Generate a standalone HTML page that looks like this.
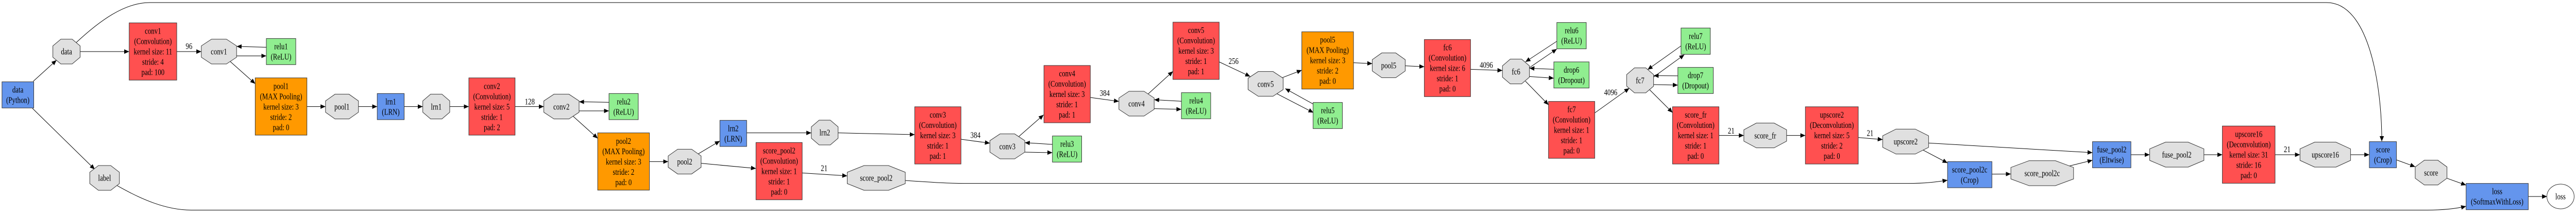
<!DOCTYPE html>
<html><head><meta charset="utf-8"><style>
html,body{margin:0;padding:0;background:#fff;width:100%;height:100%;overflow:hidden;}
svg{display:block;width:100vw;height:100vh;}
text{font-family:"Liberation Serif",serif;font-size:50px;fill:#000;text-anchor:middle;}
.r{fill:#FF5050;stroke:#333;stroke-width:3}
.o{fill:#FF9900;stroke:#333;stroke-width:3}
.g{fill:#90EE90;stroke:#333;stroke-width:3}
.b{fill:#6495ED;stroke:#333;stroke-width:3}
.p{fill:#E0E0E0;stroke:#333;stroke-width:3}
.e{fill:none;stroke:#000;stroke-width:3;marker-end:url(#a)}
</style></head><body>
<svg viewBox="0 0 6917 413" preserveAspectRatio="none" xmlns="http://www.w3.org/2000/svg">
<defs><marker id="a" markerUnits="userSpaceOnUse" markerWidth="32" markerHeight="26" refX="30" refY="13" orient="auto"><path d="M0,0 L30,13 L0,26z" fill="#000"/></marker></defs>
<g transform="scale(0.446429,0.333333)">
<path class="e" d="M200,473 L340,350"/>
<path class="e" d="M195,630 L570,985"/>
<path class="e" d="M482,300 L777,300"/>
<path class="e" d="M458,248 C600,120 750,15 900,15 L13994,15 C14250,15 14326,500 14326,822"/>
<path class="e" d="M1063,300 L1211,300"/>
<path class="e" d="M1423,325 L1602,325"/>
<path class="e" d="M1602,275 L1423,270"/>
<path class="e" d="M1385,358 L1535,487"/>
<path class="e" d="M1846,620 L1958,620"/>
<path class="e" d="M2156,620 L2269,620"/>
<path class="e" d="M2431,620 L2543,620"/>
<path class="e" d="M2705,620 L2820,620"/>
<path class="e" d="M3098,620 L3271,620"/>
<path class="e" d="M3483,645 L3663,645"/>
<path class="e" d="M3663,595 L3483,592"/>
<path class="e" d="M3447,676 L3595,805"/>
<path class="e" d="M3906,940 L4019,940"/>
<path class="e" d="M4200,895 L4330,820"/>
<path class="e" d="M4217,950 L4547,980"/>
<path class="e" d="M4491,773 L4880,773"/>
<path class="e" d="M5041,773 L5502,783"/>
<path class="e" d="M4825,1006 L5096,1023"/>
<path class="e" d="M5445,1050 C5600,1060 5700,1067 5800,1067 L11476,1067 C11580,1067 11650,1058 11714,1048"/>
<path class="e" d="M5780,810 L5954,833"/>
<path class="e" d="M6127,795 L6277,668"/>
<path class="e" d="M6164,885 L6330,888"/>
<path class="e" d="M6330,840 L6164,830"/>
<path class="e" d="M6558,567 L6730,590"/>
<path class="e" d="M6905,547 L7055,415"/>
<path class="e" d="M6942,632 L7106,636"/>
<path class="e" d="M7106,589 L6942,580"/>
<path class="e" d="M7333,360 L7520,445"/>
<path class="e" d="M7712,452 L7830,408"/>
<path class="e" d="M7680,545 L7900,655"/>
<path class="e" d="M7898,605 L7730,515"/>
<path class="e" d="M8141,365 L8254,370"/>
<path class="e" d="M8452,383 L8567,388"/>
<path class="e" d="M8845,403 L9037,410"/>
<path class="e" d="M9200,393 L9364,285"/>
<path class="e" d="M9364,240 L9175,360"/>
<path class="e" d="M9199,445 L9346,455"/>
<path class="e" d="M9346,403 L9199,397"/>
<path class="e" d="M9175,472 L9314,610"/>
<path class="e" d="M9592,657 L9800,513"/>
<path class="e" d="M9946,448 L10131,318"/>
<path class="e" d="M10111,267 L9910,405"/>
<path class="e" d="M9946,492 L10092,495"/>
<path class="e" d="M10092,441 L9946,440"/>
<path class="e" d="M9922,522 L10060,655"/>
<path class="e" d="M10339,788 L10489,788"/>
<path class="e" d="M10746,788 L10859,788"/>
<path class="e" d="M11177,800 L11324,812"/>
<path class="e" d="M11565,872 L11714,948"/>
<path class="e" d="M11600,832 L12586,888"/>
<path class="e" d="M11981,1013 L12095,1012"/>
<path class="e" d="M12440,967 L12586,932"/>
<path class="e" d="M12817,900 L12930,900"/>
<path class="e" d="M13256,900 L13367,900"/>
<path class="e" d="M13684,900 L13834,900"/>
<path class="e" d="M14138,900 L14251,900"/>
<path class="e" d="M14414,930 L14527,970"/>
<path class="e" d="M14718,1037 L14833,1077"/>
<path class="e" d="M705,1080 C850,1160 1000,1222 1150,1222 L14600,1222 C14700,1222 14780,1212 14833,1200"/>
<path class="e" d="M15207,1143 L15320,1143"/>
<rect class="b" x="12" y="476" width="191" height="152"/>
<rect class="r" x="777" y="133" width="286" height="333"/>
<rect class="g" x="1602" y="224" width="177" height="152"/>
<rect class="o" x="1535" y="453" width="311" height="333"/>
<rect class="b" x="2269" y="544" width="162" height="152"/>
<rect class="r" x="2820" y="453" width="278" height="333"/>
<rect class="g" x="3663" y="544" width="176" height="152"/>
<rect class="o" x="3595" y="773" width="311" height="333"/>
<rect class="b" x="4330" y="700" width="161" height="152"/>
<rect class="r" x="4547" y="829" width="278" height="333"/>
<rect class="r" x="5502" y="621" width="278" height="333"/>
<rect class="g" x="6330" y="791" width="176" height="152"/>
<rect class="r" x="6279" y="381" width="279" height="333"/>
<rect class="g" x="7106" y="539" width="176" height="152"/>
<rect class="r" x="7055" y="129" width="278" height="333"/>
<rect class="o" x="7830" y="185" width="311" height="333"/>
<rect class="g" x="7898" y="596" width="176" height="152"/>
<rect class="r" x="8567" y="230" width="278" height="332"/>
<rect class="g" x="9364" y="131" width="177" height="153"/>
<rect class="g" x="9346" y="360" width="212" height="152"/>
<rect class="r" x="9314" y="590" width="278" height="331"/>
<rect class="g" x="10111" y="163" width="176" height="153"/>
<rect class="g" x="10092" y="392" width="213" height="152"/>
<rect class="r" x="10060" y="621" width="279" height="333"/>
<rect class="r" x="10859" y="621" width="318" height="333"/>
<rect class="b" x="11714" y="940" width="267" height="152"/>
<rect class="b" x="12586" y="824" width="231" height="152"/>
<rect class="r" x="13367" y="733" width="317" height="333"/>
<rect class="b" x="14251" y="824" width="163" height="152"/>
<rect class="b" x="14833" y="1067" width="374" height="153"/>
<polygon class="p" points="366,228 434,228 482,267 482,333 434,372 366,372 318,333 318,267"/>
<polygon class="p" points="592,963 666,963 718,1002 718,1068 666,1107 592,1107 540,1068 540,1002"/>
<polygon class="p" points="1272,228 1362,228 1423,267 1423,333 1362,372 1272,372 1211,333 1211,267"/>
<polygon class="p" points="2015,548 2099,548 2156,587 2156,653 2099,692 2015,692 1958,653 1958,587"/>
<polygon class="p" points="2590,548 2658,548 2705,587 2705,653 2658,692 2590,692 2543,653 2543,587"/>
<polygon class="p" points="3332,548 3422,548 3483,587 3483,653 3422,692 3332,692 3271,653 3271,587"/>
<polygon class="p" points="4076,868 4160,868 4217,907 4217,973 4160,1012 4076,1012 4019,973 4019,907"/>
<polygon class="p" points="4927,699 4994,699 5041,738 5041,804 4994,843 4927,843 4880,804 4880,738"/>
<polygon class="p" points="5197,963 5344,963 5445,1002 5445,1068 5344,1107 5197,1107 5096,1068 5096,1002"/>
<polygon class="p" points="6015,779 6103,779 6164,818 6164,885 6103,924 6015,924 5954,885 5954,818"/>
<polygon class="p" points="6791,531 6881,531 6942,570 6942,636 6881,675 6791,675 6730,636 6730,570"/>
<polygon class="p" points="7568,416 7657,416 7718,455 7718,521 7657,560 7568,560 7507,521 7507,455"/>
<polygon class="p" points="8311,308 8395,308 8452,347 8452,413 8395,452 8311,452 8254,413 8254,347"/>
<polygon class="p" points="9084,344 9152,344 9199,383 9199,449 9152,488 9084,488 9037,449 9037,383"/>
<polygon class="p" points="9831,395 9899,395 9946,434 9946,501 9899,540 9831,540 9784,501 9784,434"/>
<polygon class="p" points="10564,716 10671,716 10746,755 10746,821 10671,860 10564,860 10489,821 10489,755"/>
<polygon class="p" points="11404,751 11520,751 11600,790 11600,857 11520,896 11404,896 11324,857 11324,790"/>
<polygon class="p" points="12204,935 12363,935 12472,974 12472,1041 12363,1080 12204,1080 12095,1041 12095,974"/>
<polygon class="p" points="13025,827 13161,827 13256,866 13256,933 13161,972 13025,972 12930,933 12930,866"/>
<polygon class="p" points="13922,827 14050,827 14138,866 14138,933 14050,972 13922,972 13834,933 13834,866"/>
<polygon class="p" points="14582,932 14663,932 14718,971 14718,1037 14663,1076 14582,1076 14527,1037 14527,971"/>
<ellipse cx="15401" cy="1143" rx="82" ry="72" fill="#fff" stroke="#333" stroke-width="3"/>
</g>
<g transform="scale(0.357143,0.333333)">
<text x="134" y="539">data</text><text x="134" y="599">(Python)</text>
<text x="1150" y="197">conv1</text><text x="1150" y="257">(Convolution)</text><text x="1150" y="317">kernel size: 11</text><text x="1150" y="377">stride: 4</text><text x="1150" y="437">pad: 100</text>
<text x="2113" y="287">relu1</text><text x="2113" y="347">(ReLU)</text>
<text x="2113" y="517">pool1</text><text x="2113" y="577">(MAX Pooling)</text><text x="2113" y="637">kernel size: 3</text><text x="2113" y="697">stride: 2</text><text x="2113" y="757">pad: 0</text>
<text x="2938" y="607">lrn1</text><text x="2938" y="667">(LRN)</text>
<text x="3699" y="517">conv2</text><text x="3699" y="577">(Convolution)</text><text x="3699" y="637">kernel size: 5</text><text x="3699" y="697">stride: 1</text><text x="3699" y="757">pad: 2</text>
<text x="4689" y="607">relu2</text><text x="4689" y="667">(ReLU)</text>
<text x="4688" y="837">pool2</text><text x="4688" y="897">(MAX Pooling)</text><text x="4688" y="957">kernel size: 3</text><text x="4688" y="1017">stride: 2</text><text x="4688" y="1077">pad: 0</text>
<text x="5513" y="763">lrn2</text><text x="5513" y="823">(LRN)</text>
<text x="5858" y="892">score_pool2</text><text x="5858" y="952">(Convolution)</text><text x="5858" y="1012">kernel size: 1</text><text x="5858" y="1072">stride: 1</text><text x="5858" y="1132">pad: 0</text>
<text x="7051" y="684">conv3</text><text x="7051" y="744">(Convolution)</text><text x="7051" y="804">kernel size: 3</text><text x="7051" y="864">stride: 1</text><text x="7051" y="924">pad: 1</text>
<text x="8023" y="854">relu3</text><text x="8023" y="914">(ReLU)</text>
<text x="8023" y="444">conv4</text><text x="8023" y="504">(Convolution)</text><text x="8023" y="564">kernel size: 3</text><text x="8023" y="624">stride: 1</text><text x="8023" y="684">pad: 1</text>
<text x="8993" y="602">relu4</text><text x="8993" y="662">(ReLU)</text>
<text x="8993" y="192">conv5</text><text x="8993" y="252">(Convolution)</text><text x="8993" y="312">kernel size: 3</text><text x="8993" y="372">stride: 1</text><text x="8993" y="432">pad: 1</text>
<text x="9982" y="248">pool5</text><text x="9982" y="308">(MAX Pooling)</text><text x="9982" y="368">kernel size: 3</text><text x="9982" y="428">stride: 2</text><text x="9982" y="488">pad: 0</text>
<text x="9983" y="659">relu5</text><text x="9983" y="719">(ReLU)</text>
<text x="10883" y="293">fc6</text><text x="10883" y="353">(Convolution)</text><text x="10883" y="413">kernel size: 6</text><text x="10883" y="473">stride: 1</text><text x="10883" y="533">pad: 0</text>
<text x="11816" y="194">relu6</text><text x="11816" y="254">(ReLU)</text>
<text x="11815" y="423">drop6</text><text x="11815" y="483">(Dropout)</text>
<text x="11816" y="652">fc7</text><text x="11816" y="712">(Convolution)</text><text x="11816" y="772">kernel size: 1</text><text x="11816" y="832">stride: 1</text><text x="11816" y="892">pad: 0</text>
<text x="12749" y="227">relu7</text><text x="12749" y="287">(ReLU)</text>
<text x="12748" y="455">drop7</text><text x="12748" y="515">(Dropout)</text>
<text x="12749" y="684">score_fr</text><text x="12749" y="744">(Convolution)</text><text x="12749" y="804">kernel size: 1</text><text x="12749" y="864">stride: 1</text><text x="12749" y="924">pad: 0</text>
<text x="13773" y="684">upscore2</text><text x="13773" y="744">(Deconvolution)</text><text x="13773" y="804">kernel size: 5</text><text x="13773" y="864">stride: 2</text><text x="13773" y="924">pad: 0</text>
<text x="14809" y="1003">score_pool2c</text><text x="14809" y="1063">(Crop)</text>
<text x="15877" y="887">fuse_pool2</text><text x="15877" y="947">(Eltwise)</text>
<text x="16907" y="797">upscore16</text><text x="16907" y="857">(Deconvolution)</text><text x="16907" y="917">kernel size: 31</text><text x="16907" y="977">stride: 16</text><text x="16907" y="1037">pad: 0</text>
<text x="17916" y="887">score</text><text x="17916" y="947">(Crop)</text>
<text x="18775" y="1130">loss</text><text x="18775" y="1190">(SoftmaxWithLoss)</text>
<text x="500" y="317">data</text>
<text x="786" y="1052">label</text>
<text x="1646" y="317">conv1</text>
<text x="2571" y="637">pool1</text>
<text x="3280" y="637">lrn1</text>
<text x="4221" y="637">conv2</text>
<text x="5148" y="957">pool2</text>
<text x="6201" y="788">lrn2</text>
<text x="6588" y="1052">score_pool2</text>
<text x="7574" y="868">conv3</text>
<text x="8545" y="620">conv4</text>
<text x="9516" y="505">conv5</text>
<text x="10441" y="397">pool5</text>
<text x="11398" y="433">fc6</text>
<text x="12331" y="484">fc7</text>
<text x="13272" y="805">score_fr</text>
<text x="14328" y="840">upscore2</text>
<text x="15354" y="1025">score_pool2c</text>
<text x="16366" y="917">fuse_pool2</text>
<text x="17483" y="917">upscore16</text>
<text x="18278" y="1021">score</text>
<text x="19251" y="1160">loss</text>
<text x="1421" y="285">96</text>
<text x="3983" y="607">128</text>
<text x="6196" y="994">21</text>
<text x="7334" y="802">384</text>
<text x="8306" y="558">384</text>
<text x="9275" y="372">256</text>
<text x="11175" y="394">4096</text>
<text x="12110" y="554">4096</text>
<text x="13016" y="777">21</text>
<text x="14060" y="790">21</text>
<text x="17196" y="885">21</text>
</g>
</svg>
</body></html>
